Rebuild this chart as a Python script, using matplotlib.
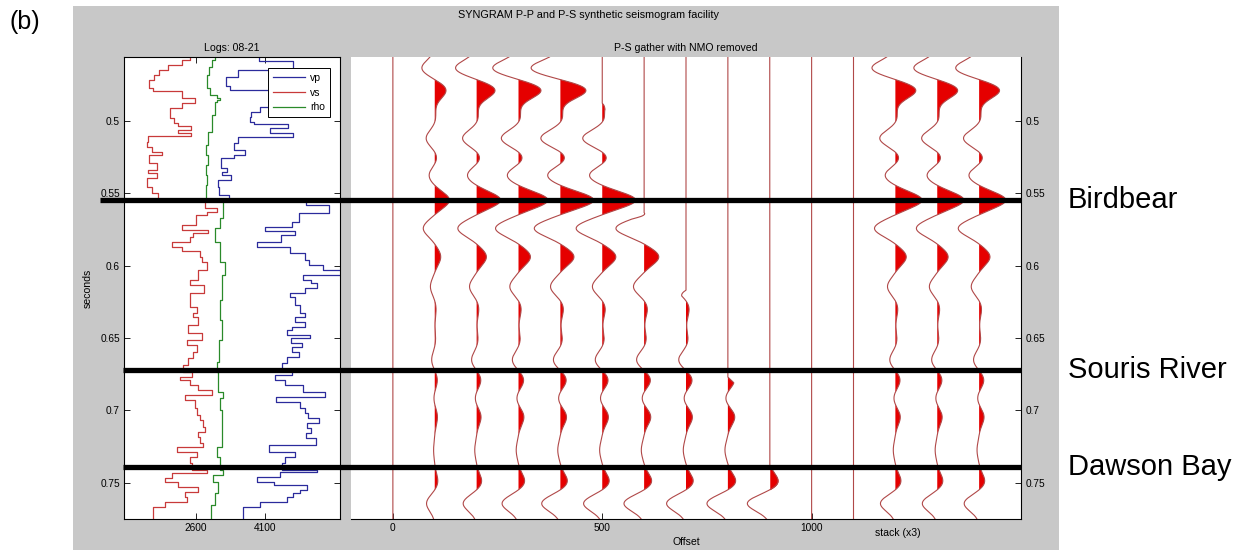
import numpy as np
import matplotlib.pyplot as plt
from matplotlib.patches import Rectangle
from matplotlib.lines import Line2D
from matplotlib.transforms import blended_transform_factory

plt.rcParams['font.family'] = ['Liberation Sans', 'DejaVu Sans']

# --- well logs: layer top times (s) and blocked values ---
vs_top = [0.456, 0.4581, 0.4615, 0.465, 0.4684, 0.4719, 0.4774, 0.4795, 0.4843, 0.4878,
          0.4912, 0.4981, 0.5016, 0.5037, 0.5064, 0.5085, 0.5106, 0.5147, 0.5182, 0.5216,
          0.5237, 0.5292, 0.534, 0.5361, 0.5396, 0.5458, 0.55, 0.5548, 0.5603, 0.5628,
          0.5651, 0.572, 0.5755, 0.5773, 0.5805, 0.5836, 0.587, 0.5898, 0.5939, 0.5974,
          0.6031, 0.61, 0.6135, 0.619, 0.6287, 0.6328, 0.6356, 0.6411, 0.6466, 0.6514,
          0.6549, 0.6597, 0.6639, 0.6687, 0.6735, 0.677, 0.679, 0.6825, 0.686, 0.6894,
          0.6929, 0.6984, 0.7032, 0.7067, 0.7115, 0.715, 0.7184, 0.7226, 0.7253, 0.7288,
          0.7323, 0.7364, 0.7412, 0.7433, 0.7467, 0.7495, 0.753, 0.7564, 0.7599, 0.7633,
          0.7668]
vs = [2470, 2300, 2000, 1800, 1690, 1580, 1670, 2300, 2580, 2300,
      2030, 2120, 2200, 2490, 2210, 2490, 1560, 1530, 1640, 1860,
      1580, 1750, 1560, 1750, 1530, 1640, 1770, 2800, 3050, 2840,
      2610, 2290, 2860, 2540, 2470, 2070, 2290, 2690, 2720, 2830,
      2640, 2470, 2780, 2470, 2620, 2540, 2640, 2430, 2730, 2400,
      2620, 2540, 2430, 2320, 2510, 2250, 2470, 2640, 2950, 2360,
      2580, 2620, 2690, 2750, 2800, 2640, 2690, 2750, 2190, 2620,
      2470, 2510, 2840, 2080, 1930, 2210, 2640, 2360, 2400, 1930,
      1670]

vp_top = [0.456, 0.4585, 0.465, 0.4699, 0.4761, 0.4788, 0.4903, 0.4938, 0.4972, 0.5007,
          0.5025, 0.5052, 0.5087, 0.5115, 0.5154, 0.5202, 0.5237, 0.5258, 0.5327, 0.5352,
          0.5375, 0.541, 0.5456, 0.5513, 0.5548, 0.5582, 0.564, 0.5698, 0.5732, 0.576,
          0.5789, 0.5836, 0.587, 0.5916, 0.5962, 0.5997, 0.6031, 0.6066, 0.61, 0.6121,
          0.6156, 0.619, 0.6218, 0.6273, 0.6328, 0.6356, 0.639, 0.6425, 0.6446, 0.648,
          0.6501, 0.6535, 0.6563, 0.6597, 0.6632, 0.6673, 0.6722, 0.6756, 0.679, 0.6825,
          0.6874, 0.6908, 0.6943, 0.6984, 0.7019, 0.7053, 0.7088, 0.7122, 0.7157, 0.7191,
          0.724, 0.7288, 0.7323, 0.7364, 0.7412, 0.7426, 0.7461, 0.7495, 0.7516, 0.755,
          0.7571, 0.7599, 0.7633, 0.7668]
vp = [3960, 4700, 3510, 3250, 3340, 4500, 4000, 3800, 3770, 3860,
      4610, 4210, 4700, 3520, 3420, 3670, 3430, 3150, 3280, 3160,
      3360, 3070, 3100, 3320, 4990, 5490, 4840, 4690, 4110, 4760,
      4440, 3930, 4650, 4970, 5060, 5350, 5900, 4930, 5100, 5220,
      4970, 4640, 4750, 4860, 4970, 4750, 4970, 4680, 4570, 5080,
      4660, 4900, 4680, 4840, 4570, 4460, 4680, 4320, 4530, 4930,
      5400, 4340, 4860, 4970, 5030, 5280, 5010, 5100, 4990, 5210,
      4180, 4760, 4530, 4460, 5240, 4420, 3930, 4290, 5010, 4860,
      4710, 4570, 4000, 3620]

rho_top = [0.456, 0.4581, 0.4629, 0.4684, 0.4774, 0.4823, 0.4843, 0.4857, 0.4871, 0.4961,
           0.5078, 0.5168, 0.5237, 0.5306, 0.5375, 0.5444, 0.5548, 0.5672, 0.5741, 0.5838,
           0.5976, 0.6066, 0.6239, 0.6377, 0.6514, 0.6666, 0.6735, 0.6874, 0.6916, 0.6998,
           0.7254, 0.7323, 0.7412, 0.7447, 0.7495, 0.7571, 0.7654]
rho = [3013, 2941, 2889, 2846, 2904, 3050, 3122, 3050, 3013, 2941,
       2867, 2817, 2850, 2817, 2845, 2817, 3194, 3122, 3013, 3122,
       3230, 3159, 3120, 3160, 3100, 3050, 3078, 3187, 3122, 3159,
       3050, 3122, 3187, 2976, 3078, 3013, 2920]
log_bottom = 0.775

# --- P-S gather: trace positions, gains and mute onsets ---
trace_x = [0, 100, 200, 300, 400, 500, 600, 700, 800, 900, 1000, 1100, 1200, 1300, 1400]
trace_gain = [0, 0.55, 0.9, 1.1, 1.25, 1.25, 1.35, 1.3, 1.4, 1.5, 0, 0, 1.0, 1.0, 1.0]
trace_mute = [0.8, 0.4, 0.4, 0.4, 0.4, 0.488, 0.5635, 0.617, 0.677, 0.737, 0.8, 0.8, 0.4, 0.4, 0.4]

# picked lobes of the stack trace (time s, amplitude in offset units)
event_t = [0.4638, 0.4788, 0.4985, 0.5122, 0.526, 0.5375, 0.5548, 0.5743, 0.594, 0.6146,
           0.6296, 0.6515, 0.6653, 0.679, 0.6915, 0.7044, 0.7274, 0.7493, 0.7642]
event_amp = [-57, 50, 5, -38, 12, -26, 64, -50, 26, -19,
             6, 4, -14, 12, -5, 12, -5, 14, -36]

horizons = ["Birdbear", "Souris River", "Dawson Bay"]
horizon_t = [0.5548, 0.672, 0.739]

W, H = 1246, 550
fig = plt.figure(figsize=(W / 100, H / 100), dpi=100)
fig.add_artist(Rectangle((73 / W, 0), (1059 - 73) / W, 544 / H, transform=fig.transFigure,
                         facecolor='#c8c8c8', edgecolor='none', zorder=-5))

ax1 = fig.add_axes([124 / W, 31 / H, 216 / W, 462 / H])
ax2 = fig.add_axes([351 / W, 31 / H, 670 / W, 462 / H])


def blocky(tops, vals, bottom):
    b = np.append(tops, bottom)
    return np.repeat(vals, 2), np.repeat(b, 2)[1:-1]


for tops, vals, col, name in [(vp_top, vp, '#2b2b9c', 'vp'), (vs_top, vs, '#c83a3a', 'vs'),
                              (rho_top, rho, '#2a8a2a', 'rho')]:
    x, y = blocky(tops, vals, log_bottom)
    ax1.plot(x, y, color=col, lw=0.9, label=name)

ax1.set_xlim(1035, 5730)
ax1.set_ylim(0.775, 0.456)
ax1.set_xticks([2600, 4100])
ax1.set_yticks([0.5, 0.55, 0.6, 0.65, 0.7, 0.75])
ax1.set_yticklabels(['0.5', '0.55', '0.6', '0.65', '0.7', '0.75'])
ax1.tick_params(direction='in', length=4, width=0.6, labelsize=7.3, pad=3,
                top=True, right=True)
ax1.set_title('Logs: 08-21', fontsize=7.6, pad=4)
ax1.set_ylabel('seconds', fontsize=7.6)
ax1.yaxis.set_label_coords((93 - 124) / 216, 0.5)
leg = ax1.legend(loc='upper right', bbox_to_anchor=(0.977, 0.987), fontsize=7.5,
                 handlelength=3.1, labelspacing=0.45, borderpad=0.45, handletextpad=0.5,
                 fancybox=False, framealpha=1, edgecolor='black')
leg.get_frame().set_linewidth(0.7)

# gather
t = np.linspace(0.456, 0.775, 1400)
stack = np.zeros_like(t)
for tk, ak in zip(event_t, event_amp):
    stack += ak * np.exp(-0.5 * ((t - tk) / 0.0055) ** 2)

for x0, g, m in zip(trace_x, trace_gain, trace_mute):
    taper = np.clip((t - m) / 0.004, 0, 1)
    tr = g * stack * taper
    ax2.fill_betweenx(t, x0, x0 + tr, where=tr > 0, interpolate=True,
                      color='#e50000', lw=0)
    ax2.plot(x0 + tr, t, color='#b04848', lw=0.8)

ax2.set_xlim(-100, 1500)
ax2.set_ylim(0.775, 0.456)
ax2.set_xticks([0, 500, 1000])
ax2.set_yticks([0.5, 0.55, 0.6, 0.65, 0.7, 0.75])
ax2.set_yticklabels(['0.5', '0.55', '0.6', '0.65', '0.7', '0.75'])
ax2.tick_params(direction='in', length=4, width=0.6, labelsize=7.3, pad=3,
                left=False, labelleft=False, right=True, labelright=True)
ax2.spines['top'].set_visible(False)
ax2.spines['left'].set_visible(False)
ax2.set_title('P-S gather with NMO removed', fontsize=7.6, pad=4)
ax2.set_xlabel('Offset', fontsize=7.6)
ax2.xaxis.set_label_coords(0.5, -0.039)
ax2.text(1206, -0.02, 'stack (x3)', transform=blended_transform_factory(ax2.transData, ax2.transAxes),
         ha='center', va='top', fontsize=7.6)

for ax in (ax1, ax2):
    for s in ax.spines.values():
        s.set_linewidth(0.8)

fig.text(588 / W, 1 - 15 / H, 'SYNGRAM P-P and P-S synthetic seismogram facility',
         ha='center', va='center', fontsize=7.8)
fig.text(10 / W, 1 - 22 / H, '(b)', ha='left', va='center', fontsize=18)

# formation tops
trans = blended_transform_factory(fig.transFigure, ax2.transData)
for name, ht in zip(horizons, horizon_t):
    x_start = 100 / W if name == "Birdbear" else 123 / W
    fig.add_artist(Line2D([x_start, 1021 / W], [ht, ht], transform=trans,
                          color='black', lw=3.8, solid_capstyle='butt'))
    fig.text(1068 / W, ht, name, transform=trans, ha='left', va='center', fontsize=21)

fig.savefig('out.png', dpi=100)
